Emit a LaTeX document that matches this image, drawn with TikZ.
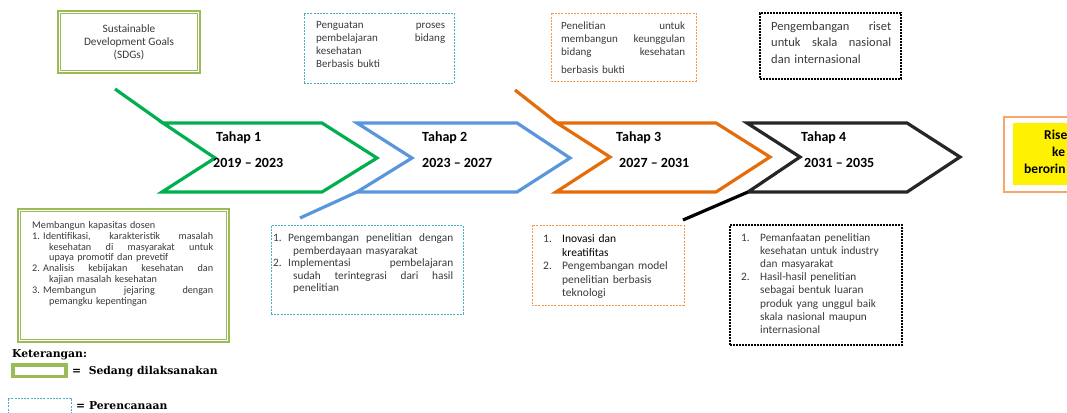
\documentclass[tikz,border=0pt]{standalone}
\usepackage{fontspec}
\setmainfont{Carlito}
\newfontfamily\legfont{DejaVu Serif}
\definecolor{sdg}{HTML}{9BBB59}
\definecolor{cgreen}{HTML}{00B050}
\definecolor{cblue}{HTML}{5A96DC}
\definecolor{corange}{HTML}{E46C0A}
\definecolor{cblack}{HTML}{262626}
\definecolor{dblue}{HTML}{4BACC6}
\definecolor{dorange}{HTML}{F79646}
\definecolor{rorange}{HTML}{F9A66C}
\definecolor{txtgray}{HTML}{3A3A3A}
\begin{document}
\begin{tikzpicture}[x=1pt,y=-1pt,
  chev/.style={line width=3.2pt, line join=miter},
  stub/.style={line width=3.2pt},
  frame/.style={draw, rectangle, inner sep=0pt},
  dframe/.style={frame, line width=0.9pt, dash pattern=on 2pt off 1.2pt},
  kframe/.style={frame, draw=black, line width=1.1pt, dash pattern=on 2pt off 1pt},
  gframe/.style={frame, draw=sdg, line width=2.2pt},
  boxtext/.style={anchor=north west, inner sep=0pt, align=left, text=txtgray},
  tahap/.style={anchor=west, inner sep=0pt, font=\bfseries\fontsize{14}{16}\selectfont},
  legtext/.style={anchor=west, inner sep=0pt, font=\legfont\bfseries\fontsize{10.8}{12}\selectfont}]
\useasboundingbox (0,0) rectangle (1067,412);

% ---------- frames ----------
\node[gframe, minimum width=142pt, minimum height=62pt] (sdgbox) at (129,42) {};
\draw[sdg, line width=0.8pt] ([shift={(3.5,3.5)}]sdgbox.north west) rectangle ([shift={(-3.5,-3.5)}]sdgbox.south east);
\node[dframe, draw=dblue, minimum width=150pt, minimum height=70pt] (bluetop) at (379,48) {};
\node[dframe, draw=dorange, minimum width=145pt, minimum height=68pt] (orangetop) at (623.5,47) {};
\node[kframe, minimum width=141pt, minimum height=66pt] (blacktop) at (830.5,46) {};

\node[gframe, minimum width=211pt, minimum height=133pt] (greenbot) at (123.5,275.5) {};
\draw[sdg, line width=0.8pt] ([shift={(3.5,3.5)}]greenbot.north west) rectangle ([shift={(-3.5,-3.5)}]greenbot.south east);
\node[dframe, draw=dblue, minimum width=192pt, minimum height=89pt] (bluebot) at (367,269.5) {};
\node[dframe, draw=dorange, minimum width=152pt, minimum height=80pt] (orangebot) at (608,265) {};
\node[kframe, minimum width=172pt, minimum height=120pt] (blackbot) at (816,285) {};

\node[frame, draw=rorange, line width=2.6pt, minimum width=76pt, minimum height=75pt] (rightbox) at (1042,154.5) {};
\fill[yellow] (1013,123) rectangle (1080,185);

% ---------- chevrons ----------
\coordinate (g1) at (163,123); \coordinate (g2) at (322,123); \coordinate (g3) at (377,158);
\coordinate (g4) at (322,192); \coordinate (g5) at (162,192); \coordinate (g6) at (215,158);
\coordinate (gs) at (115,89);
\draw[chev, cgreen] (g1) -- (g2) -- (g3) -- (g4) -- (g5) -- (g6) -- cycle;
\draw[stub, cgreen] (gs) -- (g1);

\coordinate (b1) at (357,123); \coordinate (b2) at (517,123); \coordinate (b3) at (570,158);
\coordinate (b4) at (517,192); \coordinate (b5) at (357,192); \coordinate (b6) at (412,158);
\coordinate (bs) at (300,218);
\draw[chev, cblue] (b1) -- (b2) -- (b3) -- (b4) -- (b5) -- (b6) -- cycle;
\draw[stub, cblue] (b5) -- (bs);

\coordinate (o1) at (557,123); \coordinate (o2) at (716,123); \coordinate (o3) at (770,157);
\coordinate (o4) at (716,192); \coordinate (o5) at (556,192); \coordinate (o6) at (610,157);
\coordinate (os) at (515,90);
\draw[chev, corange] (o1) -- (o2) -- (o3) -- (o4) -- (o5) -- (o6) -- cycle;
\draw[stub, corange] (os) -- (o1);

\coordinate (k1) at (747,123); \coordinate (k2) at (907,123); \coordinate (k3) at (960,157);
\coordinate (k4) at (907,192); \coordinate (k5) at (748,192); \coordinate (k6) at (800,157);
\coordinate (ks) at (683,220);
\draw[chev, cblack] (k1) -- (k2) -- (k3) -- (k4) -- (k5) -- (k6) -- cycle;
\draw[stub, black] (k5) -- (ks);

% ---------- chevron labels ----------
\node[tahap] (t1) at (216,138) {Tahap 1};
\node[tahap] (y1) at (213,163) {2019 -- 2023};
\node[tahap] (t2) at (422,138) {Tahap 2};
\node[tahap] (y2) at (422,163) {2023 -- 2027};
\node[tahap] (t3) at (616,138) {Tahap 3};
\node[tahap] (y3) at (619,163) {2027 -- 2031};
\node[tahap] (t4) at (801,138) {Tahap 4};
\node[tahap] (y4) at (804,163) {2031 -- 2035};

% ---------- texts ----------
\node[anchor=north, inner sep=0pt, align=center, text=txtgray, font=\fontsize{11.3}{13}\selectfont] (sdgtxt) at (129,24)
  {Sustainable\\Development Goals\\(SDGs)};

\node[boxtext, text width=129pt, font=\fontsize{11}{13}\selectfont] (bluetoptxt) at (316,21.5)
  {Penguatan\hfill proses\\pembelajaran\hfill bidang\\kesehatan\\Berbasis bukti};

\node[boxtext, text width=124pt, font=\fontsize{11}{13}\selectfont] (orangetoptxt) at (561,21.5)
  {Penelitian\hfill untuk\\membangun\hfill keunggulan\\bidang\hfill kesehatan\\[5pt]berbasis bukti};

\node[boxtext, text width=120pt, font=\fontsize{12.5}{16.5}\selectfont] (blacktoptxt) at (771,21.5)
  {Pengembangan\hfill riset\\untuk\hfill skala\hfill nasional\\dan internasional};

\node[boxtext, text width=181pt, font=\fontsize{10.2}{10.9}\selectfont] (greentxt) at (32,221)
  {Membangun kapasitas dosen\\
   \makebox[11pt][l]{1.}Identifikasi,\hfill karakteristik\hfill masalah\\
   \hspace*{17pt}kesehatan\hfill di\hfill masyarakat\hfill untuk\\
   \hspace*{17pt}upaya promotif dan prevetif\\
   \makebox[11pt][l]{2.}Analisis\hfill kebijakan\hfill kesehatan\hfill dan\\
   \hspace*{17pt}kajian masalah kesehatan\\
   \makebox[11pt][l]{3.}Membangun\hfill jejaring\hfill dengan\\
   \hspace*{17pt}pemangku kepentingan};

\node[boxtext, text width=180pt, font=\fontsize{11.3}{12.6}\selectfont] (bluebottxt) at (273,233.5)
  {\makebox[15pt][l]{1.}Pengembangan\hfill penelitian\hfill dengan\\
   \hspace*{20pt}pemberdayaan masyarakat\\
   \makebox[15pt][l]{2.}Implementasi\hfill pembelajaran\\
   \hspace*{20pt}sudah\hfill terintegrasi\hfill dari\hfill hasil\\
   \hspace*{20pt}penelitian};

\node[boxtext, text width=135pt, font=\fontsize{11.5}{13.5}\selectfont] (orangebottxt) at (543,234.5)
  {\makebox[19pt][l]{1.}\textcolor{black}{Inovasi dan}\\
   \hspace*{19pt}\textcolor{black}{kreatifitas}\\
   \makebox[19pt][l]{2.}Pengembangan model\\
   \hspace*{19pt}penelitian berbasis\\
   \hspace*{19pt}teknologi};

\node[boxtext, text width=160pt, font=\fontsize{11.3}{13.1}\selectfont] (blackbottxt) at (741,233.5)
  {\makebox[19pt][l]{1.}Pemanfaatan penelitian\\
   \hspace*{19pt}kesehatan untuk industry\\
   \hspace*{19pt}dan masyarakat\\
   \makebox[19pt][l]{2.}Hasil-hasil penelitian\\
   \hspace*{19pt}sebagai bentuk luaran\\
   \hspace*{19pt}produk yang unggul baik\\
   \hspace*{19pt}skala nasional maupun\\
   \hspace*{19pt}internasional};

\node[anchor=north west, inner sep=0pt, align=left, font=\bfseries\fontsize{13.5}{17}\selectfont] (righttxt) at (1024,129.5)
  {\hspace*{20pt}Rise\\\hspace*{28pt}ke\\berorin};

% ---------- legend ----------
\node[legtext] (ket) at (12,355) {Keterangan:};
\node[inner sep=0pt, minimum width=54pt, minimum height=12pt, draw=sdg, line width=3pt] (legg) at (39.5,370.5) {};
\draw[sdg, line width=0.8pt] ([shift={(3.5,3)}]legg.north west) rectangle ([shift={(-3.5,-3)}]legg.south east);
\node[legtext] (legglab) at (72,372) {=\ \ Sedang dilaksanakan};
\node[dframe, draw=dblue, minimum width=63pt, minimum height=17pt] (legb) at (39.5,406.5) {};
\node[legtext] (legblab) at (76,406) {= Perencanaan};
\end{tikzpicture}
\end{document}
